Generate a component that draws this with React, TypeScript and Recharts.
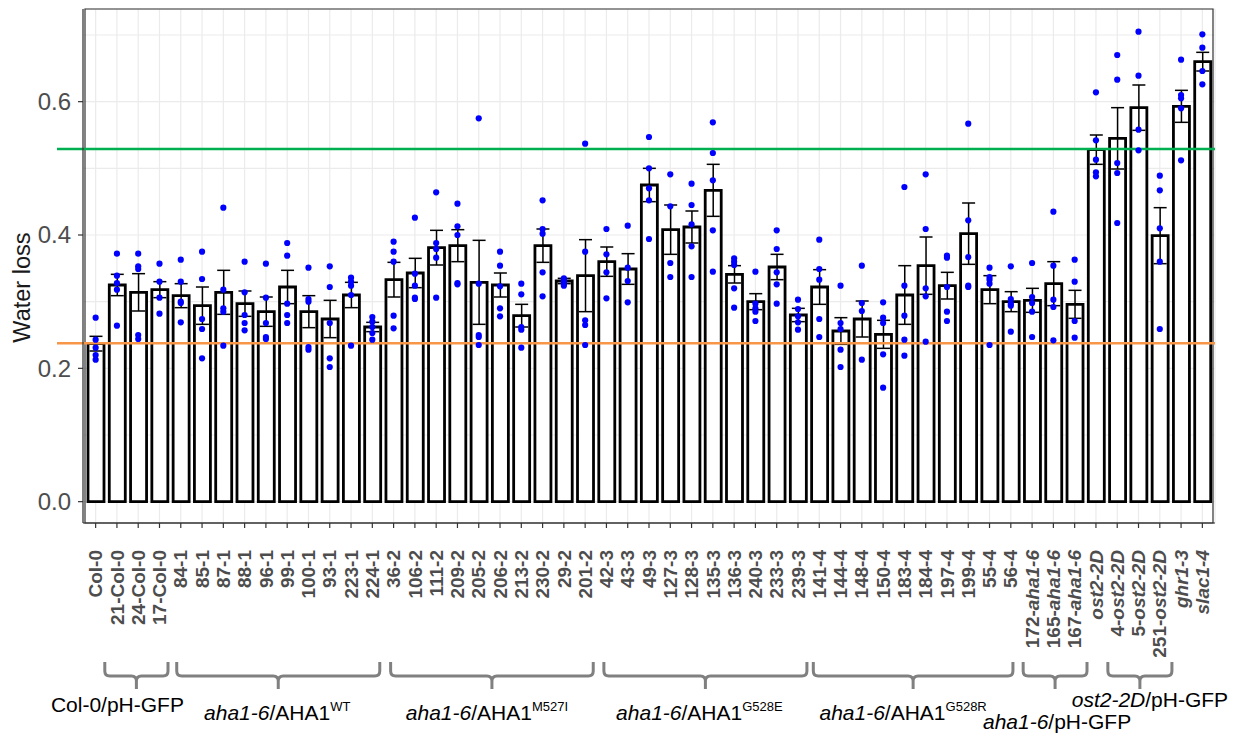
import React from 'react';
import {
  ComposedChart, Bar, ErrorBar, Scatter, XAxis, YAxis, CartesianGrid,
  ReferenceLine, ReferenceArea,
} from 'recharts';

// strains in plotting order
const strains = [
  'Col-0', '21-Col-0', '24-Col-0', '17-Col-0',
  '84-1', '85-1', '87-1', '88-1', '96-1', '99-1', '100-1', '93-1', '223-1', '224-1',
  '36-2', '106-2', '111-2', '209-2', '205-2', '206-2', '213-2', '230-2', '29-2', '201-2',
  '42-3', '43-3', '49-3', '127-3', '128-3', '135-3', '136-3', '240-3', '233-3', '239-3',
  '141-4', '144-4', '148-4', '150-4', '183-4', '184-4', '197-4', '199-4', '55-4', '56-4',
  '172-aha1-6', '165-aha1-6', '167-aha1-6',
  'ost2-2D', '4-ost2-2D', '5-ost2-2D', '251-ost2-2D',
  'ghr1-3', 'slac1-4',
];

const meanLoss = [
  0.237, 0.325, 0.314, 0.318,
  0.309, 0.294, 0.314, 0.297, 0.285, 0.322, 0.285, 0.274, 0.310, 0.262,
  0.333, 0.343, 0.381, 0.384, 0.329, 0.325, 0.279, 0.384, 0.331, 0.339,
  0.360, 0.349, 0.475, 0.408, 0.412, 0.467, 0.341, 0.300, 0.352, 0.280,
  0.322, 0.256, 0.274, 0.251, 0.310, 0.354, 0.324, 0.402, 0.318, 0.300,
  0.302, 0.327, 0.296,
  0.528, 0.545, 0.591, 0.399,
  0.593, 0.660,
];

const semLoss = [
  0.011, 0.016, 0.028, 0.012,
  0.018, 0.028, 0.033, 0.019, 0.022, 0.025, 0.024, 0.028, 0.019, 0.007,
  0.026, 0.022, 0.026, 0.024, 0.063, 0.018, 0.017, 0.025, 0.004, 0.054,
  0.022, 0.023, 0.025, 0.037, 0.024, 0.039, 0.013, 0.012, 0.019, 0.010,
  0.026, 0.020, 0.027, 0.021, 0.044, 0.043, 0.020, 0.046, 0.021, 0.015,
  0.018, 0.033, 0.021,
  0.022, 0.046, 0.034, 0.042,
  0.024, 0.014,
];

const replicates = [
  [0.276, 0.243, 0.231, 0.220, 0.213],
  [0.372, 0.339, 0.328, 0.318, 0.264],
  [0.372, 0.353, 0.349, 0.250, 0.244],
  [0.357, 0.330, 0.306, 0.282],
  [0.363, 0.330, 0.300, 0.298, 0.269],
  [0.375, 0.334, 0.274, 0.259, 0.215],
  [0.441, 0.318, 0.290, 0.285, 0.234],
  [0.360, 0.314, 0.280, 0.268, 0.257],
  [0.357, 0.306, 0.268, 0.247, 0.244],
  [0.388, 0.369, 0.297, 0.280, 0.268],
  [0.351, 0.304, 0.300, 0.232, 0.228],
  [0.353, 0.322, 0.268, 0.215, 0.202],
  [0.336, 0.330, 0.324, 0.310, 0.234],
  [0.277, 0.270, 0.262, 0.253, 0.243],
  [0.390, 0.375, 0.360, 0.279, 0.260],
  [0.426, 0.342, 0.324, 0.306, 0.304],
  [0.464, 0.388, 0.379, 0.366, 0.306],
  [0.447, 0.413, 0.400, 0.328, 0.326],
  [0.575, 0.327, 0.250, 0.247, 0.235],
  [0.375, 0.354, 0.323, 0.290, 0.278],
  [0.327, 0.311, 0.262, 0.258, 0.231],
  [0.452, 0.409, 0.402, 0.344, 0.308],
  [0.335, 0.332, 0.330, 0.327, 0.324],
  [0.537, 0.375, 0.272, 0.265, 0.235],
  [0.409, 0.371, 0.344, 0.305],
  [0.414, 0.351, 0.331, 0.299],
  [0.547, 0.500, 0.470, 0.452, 0.394],
  [0.491, 0.443, 0.358, 0.337],
  [0.477, 0.445, 0.416, 0.383, 0.337],
  [0.569, 0.523, 0.482, 0.407, 0.345],
  [0.365, 0.360, 0.355, 0.320, 0.291],
  [0.345, 0.297, 0.290, 0.285, 0.271],
  [0.407, 0.379, 0.344, 0.326, 0.297],
  [0.303, 0.289, 0.278, 0.269, 0.258],
  [0.393, 0.349, 0.333, 0.274, 0.247],
  [0.324, 0.268, 0.259, 0.228, 0.202],
  [0.354, 0.298, 0.286, 0.213],
  [0.299, 0.276, 0.268, 0.221, 0.171],
  [0.472, 0.324, 0.279, 0.243, 0.219],
  [0.491, 0.409, 0.320, 0.308, 0.240],
  [0.369, 0.366, 0.322, 0.285, 0.271],
  [0.567, 0.422, 0.367, 0.324, 0.322],
  [0.351, 0.337, 0.333, 0.327, 0.235],
  [0.353, 0.304, 0.297, 0.294, 0.255],
  [0.358, 0.307, 0.298, 0.285, 0.247],
  [0.435, 0.354, 0.303, 0.292, 0.242],
  [0.363, 0.330, 0.271, 0.246],
  [0.614, 0.542, 0.513, 0.494, 0.488],
  [0.670, 0.633, 0.508, 0.493, 0.418],
  [0.705, 0.639, 0.558, 0.527],
  [0.489, 0.467, 0.410, 0.360, 0.259],
  [0.663, 0.610, 0.605, 0.590, 0.512],
  [0.701, 0.681, 0.646, 0.626],
];

// reference levels (Col-0 and ost2-2D)
const col0Level = 0.2376;
const ost2Level = 0.529;

const yTicks = [0, 0.1, 0.2, 0.3, 0.4, 0.5, 0.6, 0.7];
const yDomain = [-0.032, 0.739];

// genotype groups under the x axis
const groupSizes = [4, 10, 10, 10, 10, 3, 4];
const groupText = [
  ['', 'Col-0/pH-GFP', ''],
  ['aha1-6', '/AHA1', 'WT'],
  ['aha1-6', '/AHA1', 'M527I'],
  ['aha1-6', '/AHA1', 'G528E'],
  ['aha1-6', '/AHA1', 'G528R'],
  ['aha1-6', '/pH-GFP', ''],
  ['ost2-2D', '/pH-GFP', ''],
];

// bracket ends in category steps, label shift / baseline in px
const groupLayout = [
  { lo: 0.43, hi: 0.4, dx: -19, base: 182 },
  { lo: -0.19, hi: 0.35, dx: -1, base: 190 },
  { lo: -0.14, hi: 0.38, dx: -5, base: 190 },
  { lo: -0.12, hi: 0.42, dx: -6, base: 190 },
  { lo: -0.28, hi: 0.1, dx: -10, base: 190 },
  { lo: -0.42, hi: 0.58, dx: 2, base: 199 },
  { lo: 0.56, hi: 0.57, dx: 10, base: 177 },
];

const groupStarts = groupSizes.map((_, i) => groupSizes.slice(0, i).reduce((a, b) => a + b, 0));

const data = strains.map((name, i) => {
  const row: any = { name, mean: meanLoss[i], se: semLoss[i] };
  replicates[i].forEach((v, k) => { row[`p${k + 1}`] = v; });
  return row;
});

const italicRe = /(aha1-6|ost2-2D|ghr1-3|slac1-4)/;
const font = 'Liberation Sans, Arial, sans-serif';

const XTick = (props: any) => {
  const { x, y, payload, index } = props;
  const step = payload?.offset ? payload.offset * 2 : (props.width - 4) / props.visibleTicksCount;
  const name = String(payload.value);
  const parts = name.split(italicRe).filter((s) => s !== '');
  const gi = groupStarts.indexOf(index);

  let group = null;
  if (gi >= 0) {
    const lay = groupLayout[gi];
    const left = x + lay.lo * step;
    const right = x + (groupSizes[gi] - 1) * step + lay.hi * step;
    const c = (left + right) / 2;
    const top = y + 132, h = y + 146, nub = y + 159, r = 5;
    const d = `M${left},${top} V${h - r} Q${left},${h} ${left + r},${h} H${c - r} Q${c},${h} ${c},${h + r} V${nub} ` +
      `M${c},${h + r} Q${c},${h} ${c + r},${h} H${right - r} Q${right},${h} ${right},${h - r} V${top}`;
    const [it, plain, sup] = groupText[gi];
    group = (
      <g>
        <path d={d} fill="none" stroke="#808080" strokeWidth={3} />
        <text x={c + lay.dx} y={y + lay.base} textAnchor="middle" fontSize={21} fill="#000" fontFamily={font}>
          {it && <tspan fontStyle="italic">{it}</tspan>}
          <tspan>{plain}</tspan>
          {sup && <tspan fontSize={13} dy={-9}>{sup}</tspan>}
        </text>
      </g>
    );
  }

  return (
    <g>
      <text
        transform={`translate(${x},${y + 20}) rotate(-90)`}
        textAnchor="end"
        dy="0.35em"
        fontSize={19}
        fontWeight="bold"
        fill="#4d4d4d"
        fontFamily={font}
      >
        {parts.map((p, k) => (
          <tspan key={k} fontStyle={italicRe.test(p) ? 'italic' : 'normal'}>{p}</tspan>
        ))}
      </text>
      {group}
    </g>
  );
};

const YTick = (props: any) => {
  const { x, y, payload } = props;
  const v = Number(payload.value);
  if (Math.round(v * 10) % 2 !== 0) return <g />;
  return (
    <g>
      <line x1={x + 7} x2={x + 12} y1={y} y2={y} stroke="#333" strokeWidth={1.2} />
      <text x={x} y={y} dy="0.35em" textAnchor="end" fontSize={24} fill="#4d4d4d" fontFamily={font}>
        {v.toFixed(1)}
      </text>
    </g>
  );
};

const YLabel = (props: any) => {
  const vb = props.viewBox || { x: 0, y: 9, width: 83, height: 514 };
  const cx = vb.x + 22;
  const cy = vb.y + vb.height * 0.542;
  return (
    <text transform={`translate(${cx},${cy}) rotate(-90)`} textAnchor="middle" dy="0.35em"
      fontSize={23.5} fill="#1a1a1a" fontFamily={font}>
      Water loss
    </text>
  );
};

const longLine = (color: string) => (props: any) => (
  <line x1={props.x1 - 26} x2={props.x2} y1={props.y1} y2={props.y2} stroke={color} strokeWidth={2.5} />
);

const dotShape = (key: string) => (props: any) => {
  if (props.payload == null || props.payload[key] == null || !isFinite(props.cy)) return <g />;
  return <circle cx={props.cx} cy={props.cy} r={3.1} fill="#0000ff" />;
};

export default function App() {
  return (
    <div style={{ position: 'absolute', left: 0, top: 0, width: 1246, height: 735, background: '#fff' }}>
      <ComposedChart width={1246} height={735} data={data} margin={{ top: 9, right: 31, bottom: 0, left: 0 }}>
        <CartesianGrid stroke="#ebebeb" strokeWidth={1.2} />
        <XAxis
          dataKey="name"
          type="category"
          interval={0}
          height={212}
          padding={{ left: 2, right: 2 }}
          tick={<XTick />}
          tickSize={5}
          tickLine={{ stroke: '#333', strokeWidth: 1.2 }}
          axisLine={{ stroke: '#333', strokeWidth: 1.2 }}
        />
        <YAxis
          type="number"
          domain={yDomain}
          allowDataOverflow
          ticks={yTicks}
          width={83}
          tickSize={5}
          tickMargin={7}
          tickLine={false}
          tick={<YTick />}
          axisLine={{ stroke: '#333', strokeWidth: 1.2 }}
          label={<YLabel />}
        />
        <Bar dataKey="mean" fill="#fff" stroke="#000" strokeWidth={2.8} barSize={16} isAnimationActive={false}>
          <ErrorBar dataKey="se" width={6.5} stroke="#000" strokeWidth={1.5} isAnimationActive={false} />
        </Bar>
        <ReferenceLine y={col0Level} stroke="#f79646" shape={longLine('#f79646')} ifOverflow="visible" />
        <ReferenceLine y={ost2Level} stroke="#00b050" shape={longLine('#00b050')} ifOverflow="visible" />
        {['p1', 'p2', 'p3', 'p4', 'p5'].map((k) => (
          <Scatter key={k} dataKey={k} fill="#0000ff" shape={dotShape(k)} isAnimationActive={false} />
        ))}
        <ReferenceArea y1={yDomain[0]} y2={yDomain[1]} fill="none" stroke="#333" strokeWidth={1.2} ifOverflow="visible" />
      </ComposedChart>
    </div>
  );
}
